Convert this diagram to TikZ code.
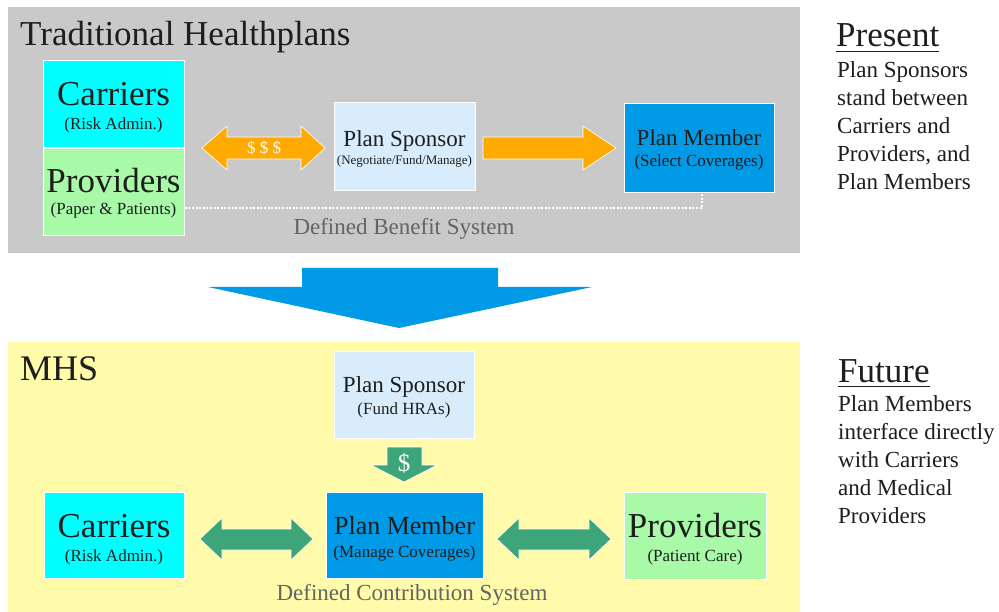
\documentclass[tikz,border=0pt]{standalone}
\usepackage{fontspec}
\setmainfont{Liberation Serif}
\definecolor{panelgray}{RGB}{201,201,201}
\definecolor{panelyellow}{RGB}{255,251,170}
\definecolor{cyanbox}{RGB}{0,255,255}
\definecolor{greenbox}{RGB}{168,250,168}
\definecolor{sponsorblue}{RGB}{216,236,252}
\definecolor{memberblue}{RGB}{0,154,230}
\definecolor{arroworange}{RGB}{255,170,0}
\definecolor{arrowgreen}{RGB}{62,164,122}
\definecolor{txt}{RGB}{30,30,30}
\definecolor{graytxt}{RGB}{100,100,100}
\tikzset{
  boxnode/.style={draw=white, line width=0.8pt, inner sep=0pt, anchor=north west},
  blockarrow/.style={draw=white, line width=0.6pt, line join=miter},
  lbl/.style={inner sep=0pt, anchor=base, text=txt},
  side/.style={inner sep=0pt, anchor=base west, text=txt, font=\fontsize{23}{28}\selectfont},
}
\newcommand{\fs}[1]{\fontsize{#1}{#1}\selectfont}
\begin{document}
\begin{tikzpicture}[x=1pt,y=-1pt]
\useasboundingbox (0,0) rectangle (999,612);
\fill[white] (0,0) rectangle (999,612);
% panels
\fill[panelgray] (8,7) rectangle (800,253);
\fill[panelyellow] (8,342) rectangle (800,612);

% ---------- Present ----------
\node[lbl, anchor=base west, font=\fs{35}] (t1) at (20,46) {Traditional Healthplans};

\node[boxnode, fill=cyanbox, minimum width=141pt, minimum height=87pt] (carT) at (43,60) {};
\node[boxnode, fill=greenbox, minimum width=141pt, minimum height=87pt] (proT) at (43,148) {};
\node[lbl, font=\fs{35}] (carTa) at (113.5,106) {Carriers};
\node[lbl, font=\fs{17}] (carTb) at (113.5,130) {(Risk Admin.)};
\node[lbl, font=\fs{35}] (proTa) at (113.5,193) {Providers};
\node[lbl, font=\fs{17}] (proTb) at (113.5,215) {(Paper \& Patients)};

\node[boxnode, fill=sponsorblue, minimum width=141pt, minimum height=88pt] (spT) at (334,102) {};
\node[lbl, font=\fs{23}] (spTa) at (404.5,147) {Plan Sponsor};
\node[lbl, font=\fs{13}] (spTb) at (404.5,165) {(Negotiate/Fund/Manage)};

\node[boxnode, fill=memberblue, minimum width=150pt, minimum height=89pt] (memT) at (624,103) {};
\node[lbl, font=\fs{23}] (memTa) at (699,146) {Plan Member};
\node[lbl, font=\fs{17}] (memTb) at (699,167) {(Select Coverages)};

% orange double arrow
\draw[blockarrow, fill=arroworange] (202,148) -- (227,126) -- (227,137) -- (301,137) -- (301,126) -- (325,148)
  -- (301,170) -- (301,159) -- (227,159) -- (227,170) -- cycle;
\node[lbl, text=white, font=\fs{17}] (dollars) at (264,154) {\$ \$ \$};
% orange right arrow
\draw[blockarrow, fill=arroworange] (483,137) -- (583,137) -- (583,126) -- (616,148) -- (583,170) -- (583,159) -- (483,159) -- cycle;

% dotted link
\coordinate (dotA) at (proT.east |- 0,208);
\coordinate (dotB) at (702,208);
\draw[white, line width=2.2pt, dash pattern=on 2pt off 1.6pt] (dotA) -- (dotB) -- (dotB |- memT.south);

\node[lbl, text=graytxt, font=\fs{23}] (dbs) at (404,235) {Defined Benefit System};

% big blue arrow
\fill[memberblue] (302,268) -- (498,268) -- (498,287) -- (592,287) -- (399,328) -- (208,287) -- (302,287) -- cycle;

% ---------- Future ----------
\node[lbl, anchor=base west, font=\fs{36}] (t2) at (20,381) {MHS};

\node[boxnode, fill=sponsorblue, minimum width=140pt, minimum height=87pt] (spB) at (334,351) {};
\node[lbl, font=\fs{23}] (spBa) at (404,392) {Plan Sponsor};
\node[lbl, font=\fs{17}] (spBb) at (404,414) {(Fund HRAs)};

\draw[blockarrow, fill=arrowgreen] (387,447) -- (422,447) -- (422,465) -- (437,465) -- (404,482) -- (371,465) -- (387,465) -- cycle;
\node[lbl, text=white, font=\fs{25}] (dol) at (404,471) {\$};

\node[boxnode, fill=cyanbox, minimum width=140pt, minimum height=86pt] (carB) at (44,492) {};
\node[lbl, font=\fs{35}] (carBa) at (114,537) {Carriers};
\node[lbl, font=\fs{17}] (carBb) at (114,561) {(Risk Admin.)};

\node[boxnode, fill=memberblue, minimum width=157pt, minimum height=86pt] (memB) at (326,492) {};
\node[lbl, font=\fs{26}] (memBa) at (404.5,534) {Plan Member};
\node[lbl, font=\fs{17}] (memBb) at (404.5,557) {(Manage Coverages)};

\node[boxnode, fill=greenbox, minimum width=142pt, minimum height=87pt] (proB) at (624,492) {};
\node[lbl, font=\fs{35}] (proBa) at (695,537) {Providers};
\node[lbl, font=\fs{17}] (proBb) at (695,561) {(Patient Care)};

\draw[blockarrow, fill=arrowgreen] (200,539) -- (222,518) -- (222,529) -- (291,529) -- (291,518) -- (313,539)
  -- (291,560) -- (291,550) -- (222,550) -- (222,560) -- cycle;
\draw[blockarrow, fill=arrowgreen] (497,539) -- (519,518) -- (519,529) -- (589,529) -- (589,518) -- (611,539)
  -- (589,560) -- (589,550) -- (519,550) -- (519,560) -- cycle;

\node[lbl, text=graytxt, font=\fs{23}] (dcs) at (412,600) {Defined Contribution System};

% ---------- side notes ----------
\node[lbl, anchor=base west, font=\fs{35}] (pres) at (836,47) {Present};
\draw[txt, line width=1.8pt] (pres.base west) ++(0,4.5) -- ++(103,0);
\node[side] (p1) at (837,78) {Plan Sponsors};
\node[side] (p2) at (837,106) {stand between};
\node[side] (p3) at (837,134) {Carriers and};
\node[side] (p4) at (837,162) {Providers, and};
\node[side] (p5) at (837,190) {Plan Members};

\node[lbl, anchor=base west, font=\fs{35}] (fut) at (838,382) {Future};
\draw[txt, line width=1.8pt] (fut.base west) ++(0,4.5) -- ++(92,0);
\node[side] (f1) at (838,411) {Plan Members};
\node[side] (f2) at (838,439) {interface directly};
\node[side] (f3) at (838,467) {with Carriers};
\node[side] (f4) at (838,495) {and Medical};
\node[side] (f5) at (838,523) {Providers};
\end{tikzpicture}
\end{document}
